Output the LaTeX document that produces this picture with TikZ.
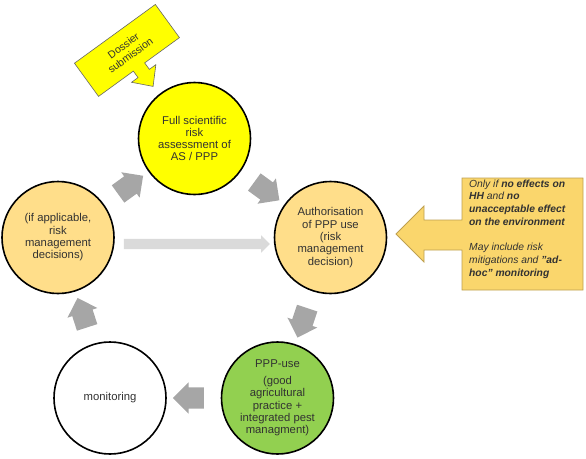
\documentclass[tikz,border=0pt]{standalone}
\usepackage{fontspec}
\setmainfont{Liberation Sans}
\usepackage{tikz}
\usetikzlibrary{shapes.arrows}
\usepackage{xcolor}
\definecolor{cycleyellow}{RGB}{255,255,0}
\definecolor{cycleorange}{RGB}{255,222,138}
\definecolor{cyclegreen}{RGB}{146,208,80}
\definecolor{arrowgray}{RGB}{166,166,166}
\definecolor{skipgray}{RGB}{218,218,218}
\definecolor{calloutfill}{RGB}{250,214,108}
\definecolor{calloutdraw}{RGB}{190,160,80}
\definecolor{textgray}{RGB}{50,50,50}

\begin{document}
\begin{tikzpicture}[
        x=1pt, y=-1pt,
        stepcircle/.style={
            circle,
            minimum size=112pt, % circle diameter
            inner sep=0pt,
            draw=black,
            line width=1.6pt,
            align=center,
            text=textgray,
            font=\fontsize{11.3}{12.3}\selectfont
        },
        cyclearrow/.style={
            single arrow,
            fill=arrowgray,
            minimum height=31pt,
            inner xsep=0pt,
            inner ysep=10.5pt, % shaft half width
            single arrow head extend=5pt,
            sloped,
            allow upside down
        },
        skiparrow/.style={
            single arrow,
            fill=skipgray,
            minimum height=146pt,
            inner xsep=0pt,
            inner ysep=5pt,
            single arrow head extend=3.5pt
        }
    ]
\useasboundingbox (0,0) rectangle (586,458);

% The cycle steps
        \node[stepcircle, fill=cycleyellow] (assess) at (194.5,138.5)
            {Full scientific\\risk\\assessment of\\AS / PPP};
        \node[stepcircle, fill=cycleorange] (authorise) at (330.5,237.5)
            {Authorisation\\of PPP use\\(risk\\management\\decision)};
        \node[stepcircle, fill=cyclegreen] (pppuse) at (277.5,398)
            {PPP-use\\[4.4pt](good\\agricultural\\practice +\\integrated pest\\managment)};
        \node[stepcircle, fill=white] (monitor) at (110,398) {monitoring};
        \node[stepcircle, fill=cycleorange] (rmdecide) at (58,237.5)
            {(if applicable,\\risk\\management\\decisions)};

% Block arrows between neighbouring steps
\path (rmdecide) -- node[cyclearrow] (a1) {} (assess);
\path (assess) -- node[cyclearrow] (a2) {} (authorise);
\path (authorise) -- node[cyclearrow] (a3) {} (pppuse);
\path (pppuse) -- node[cyclearrow] (a4) {} (monitor);
\path (monitor) -- node[cyclearrow] (a5) {} (rmdecide);

% Light shortcut across the middle
\path ([yshift=-6.5pt]rmdecide.east) -- node[skiparrow] (skip) {} ([yshift=-6.5pt]authorise.west);

% Dossier submission, tilted
\begin{scope}[shift={(139,67)}, rotate=36]
  \draw[black!60, fill=cycleyellow, line width=0.6pt]
    (-50,0) -- (-50,-41) -- (50,-41) -- (50,0) -- (7,0) -- (7,8) -- (15,8)
    -- (0,24) -- (-15,8) -- (-7,8) -- (-7,0) -- cycle;
  \node[transform shape, align=center, text=textgray,
        font=\fontsize{10.5}{12}\selectfont] (dossier) at (0,-20.5) {Dossier\\submission};
\end{scope}

% Conditions on the authorisation
\draw[calloutdraw, fill=calloutfill, line width=0.8pt]
  (583,178) -- (462,178) -- (462,220) -- (424,220) -- (424,206) -- (396,234)
  -- (424,262) -- (424,250) -- (462,250) -- (462,290) -- (583,290) -- cycle;
\node[anchor=north west, inner sep=0pt, align=left, text=textgray,
      font=\fontsize{10.3}{12.7}\selectfont\itshape] (conditions) at (469,179.5)
  {Only if \textbf{no effects on}\\\textbf{HH} and \textbf{no}\\\textbf{unacceptable effect}\\
   \textbf{on the environment}\\[12.7pt]May include risk\\mitigations and \textbf{"ad-}\\
   \textbf{hoc" monitoring}};

    \end{tikzpicture}
\end{document}
